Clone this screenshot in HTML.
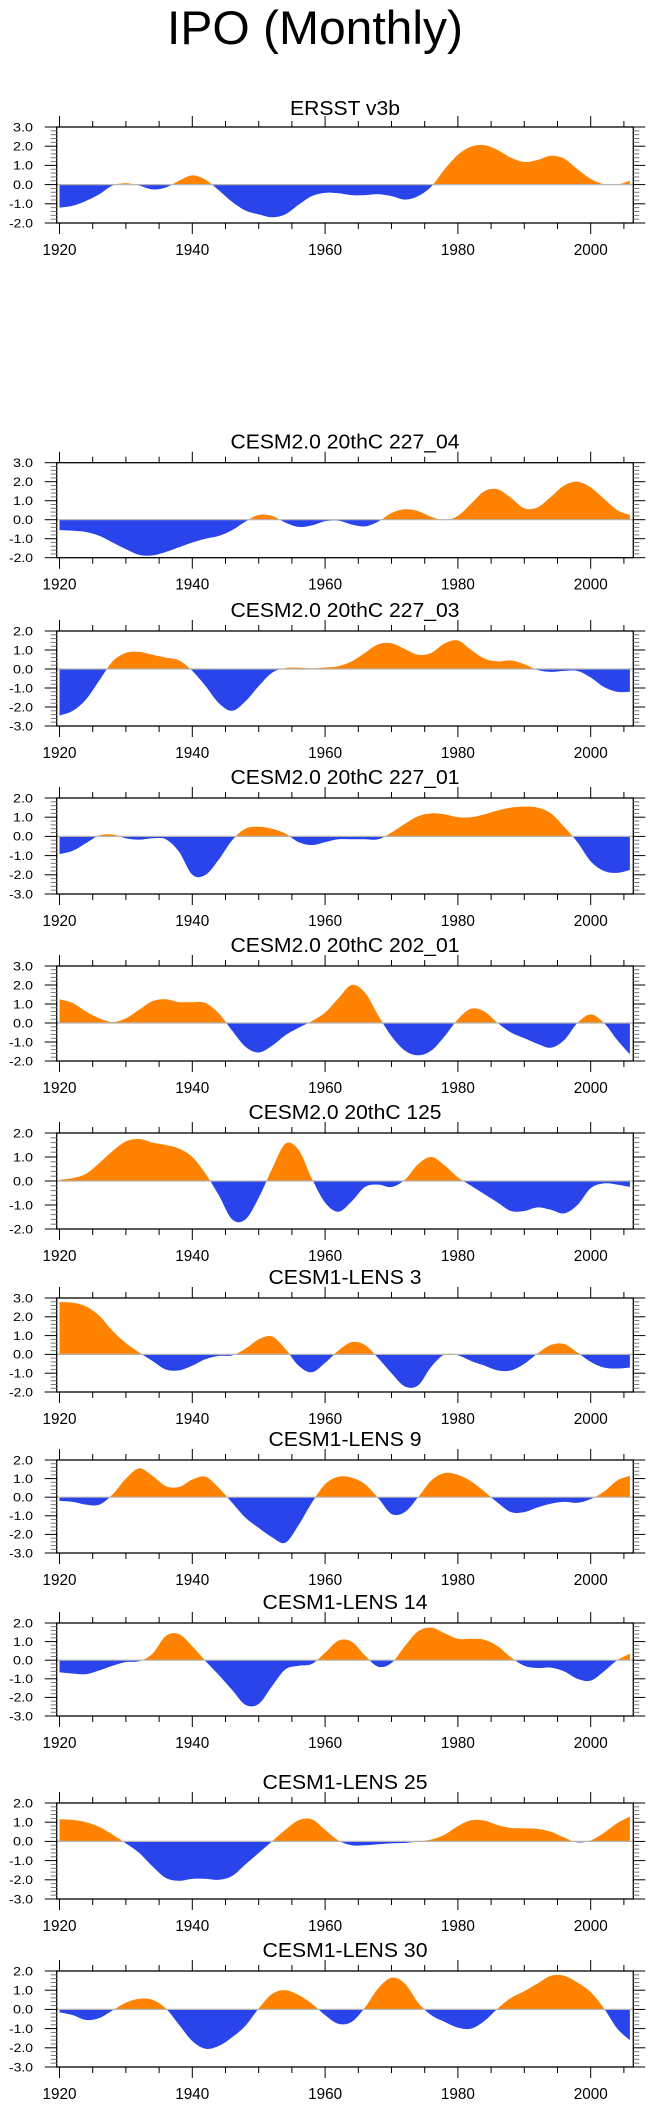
<!DOCTYPE html>
<html><head><meta charset="utf-8"><title>IPO (Monthly)</title>
<style>
html,body{margin:0;padding:0;background:#fff;}
svg{display:block;}
text{font-family:"Liberation Sans",Arial,sans-serif;fill:#000;}
</style></head>
<body>
<svg id="fig" width="654" height="2110" viewBox="0 0 654 2110" xmlns="http://www.w3.org/2000/svg">
<text x="167" y="44" font-size="47" textLength="296" lengthAdjust="spacingAndGlyphs">IPO (Monthly)</text>
</svg>
<script>
const years = [1920,1922,1924,1926,1928,1930,1932,1934,1936,1938,1940,1942,1944,1946,1948,1950,1952,1954,1956,1958,1960,1962,1964,1966,1968,1970,1972,1974,1976,1978,1980,1982,1984,1986,1988,1990,1992,1994,1996,1998,2000,2002,2004,2005.9];
const xTicks = [1920,1940,1960,1980,2000];
const panelTitles = ["ERSST v3b","CESM2.0 20thC 227_04","CESM2.0 20thC 227_03","CESM2.0 20thC 227_01","CESM2.0 20thC 202_01","CESM2.0 20thC 125","CESM1-LENS 3","CESM1-LENS 9","CESM1-LENS 14","CESM1-LENS 25","CESM1-LENS 30"];
const yMax = [3,3,2,2,3,2,3,2,2,2,2];
const yMin = [-2,-2,-3,-3,-2,-2,-2,-3,-3,-3,-3];
const ersst = [-1.2,-1.1,-0.85,-0.5,-0.05,0.07,-0.05,-0.25,-0.15,0.2,0.48,0.25,-0.3,-0.9,-1.35,-1.55,-1.7,-1.55,-1.05,-0.6,-0.43,-0.45,-0.55,-0.55,-0.5,-0.6,-0.78,-0.6,-0.1,0.8,1.55,1.98,2.05,1.8,1.4,1.18,1.28,1.5,1.35,0.8,0.3,0.02,0.0,0.2];
const c227_04 = [-0.55,-0.58,-0.65,-0.85,-1.2,-1.55,-1.85,-1.88,-1.7,-1.45,-1.2,-1.0,-0.85,-0.55,-0.1,0.25,0.2,-0.15,-0.38,-0.3,-0.08,-0.05,-0.25,-0.35,-0.1,0.35,0.55,0.45,0.15,-0.02,0.2,0.85,1.5,1.6,1.15,0.6,0.65,1.2,1.8,2.0,1.7,1.1,0.5,0.25];
const c227_03 = [-2.45,-2.2,-1.6,-0.6,0.4,0.85,0.9,0.75,0.6,0.45,-0.1,-0.9,-1.8,-2.2,-1.7,-0.9,-0.2,0.05,0.07,0.03,0.08,0.15,0.4,0.85,1.3,1.35,1.05,0.75,0.85,1.35,1.5,1.0,0.55,0.4,0.45,0.25,-0.05,-0.15,-0.1,-0.1,-0.45,-0.95,-1.2,-1.2];
const c227_01 = [-0.92,-0.75,-0.35,0.05,0.1,-0.1,-0.17,-0.1,-0.15,-0.8,-2.0,-2.0,-1.2,-0.2,0.4,0.5,0.4,0.15,-0.3,-0.45,-0.3,-0.15,-0.15,-0.15,-0.15,0.2,0.65,1.05,1.2,1.15,1.0,1.0,1.15,1.35,1.5,1.55,1.5,1.2,0.5,-0.3,-1.3,-1.8,-1.9,-1.75];
const c202_01 = [1.25,1.05,0.6,0.25,0.05,0.25,0.7,1.15,1.25,1.1,1.1,1.05,0.5,-0.4,-1.25,-1.55,-1.2,-0.65,-0.25,0.1,0.55,1.3,2.0,1.6,0.4,-0.7,-1.45,-1.7,-1.45,-0.7,0.2,0.75,0.6,0.0,-0.5,-0.8,-1.1,-1.3,-0.9,0.0,0.45,0.0,-0.9,-1.65];
const c125 = [0.05,0.12,0.3,0.75,1.25,1.65,1.75,1.6,1.5,1.35,1.0,0.3,-0.6,-1.6,-1.6,-0.7,0.5,1.55,1.3,0.1,-0.9,-1.28,-0.85,-0.25,-0.15,-0.25,0.05,0.7,1.0,0.65,0.15,-0.2,-0.55,-0.9,-1.25,-1.25,-1.1,-1.2,-1.35,-1.0,-0.3,-0.1,-0.15,-0.25];
const lens3 = [2.78,2.75,2.55,2.05,1.25,0.6,0.1,-0.35,-0.8,-0.85,-0.6,-0.25,-0.08,-0.05,0.3,0.8,0.95,0.3,-0.6,-0.95,-0.45,0.2,0.65,0.5,-0.2,-1.0,-1.7,-1.65,-0.65,0.0,-0.05,-0.35,-0.6,-0.85,-0.85,-0.5,0.05,0.5,0.55,0.1,-0.4,-0.7,-0.75,-0.7];
const lens9 = [-0.2,-0.25,-0.4,-0.4,0.15,1.0,1.55,1.15,0.6,0.55,0.95,1.1,0.5,-0.3,-1.1,-1.65,-2.15,-2.45,-1.5,-0.3,0.7,1.1,1.05,0.7,-0.05,-0.9,-0.8,0.0,0.9,1.3,1.2,0.85,0.3,-0.3,-0.8,-0.8,-0.55,-0.35,-0.25,-0.3,-0.1,0.3,0.9,1.15];
const lens14 = [-0.65,-0.72,-0.75,-0.55,-0.3,-0.1,-0.05,0.35,1.3,1.4,0.75,-0.05,-0.8,-1.6,-2.4,-2.35,-1.4,-0.5,-0.3,-0.2,0.4,1.05,1.0,0.25,-0.35,-0.15,0.75,1.55,1.75,1.45,1.15,1.15,1.1,0.75,0.15,-0.3,-0.42,-0.4,-0.6,-1.0,-1.1,-0.6,0.0,0.35];
const lens25 = [1.15,1.12,1.0,0.75,0.35,-0.1,-0.6,-1.3,-1.9,-2.05,-1.95,-1.95,-2.0,-1.8,-1.2,-0.6,0.0,0.6,1.1,1.15,0.6,0.05,-0.2,-0.2,-0.15,-0.1,-0.08,0.0,0.1,0.35,0.8,1.1,1.08,0.85,0.7,0.68,0.65,0.5,0.2,-0.05,0.05,0.45,0.95,1.3];
const lens30 = [-0.15,-0.3,-0.55,-0.45,-0.05,0.35,0.55,0.5,0.05,-0.8,-1.65,-2.05,-1.9,-1.45,-0.85,0.05,0.8,1.0,0.75,0.3,-0.3,-0.75,-0.65,0.1,1.1,1.65,1.35,0.35,-0.3,-0.65,-0.95,-1.0,-0.6,0.05,0.6,0.95,1.35,1.75,1.75,1.4,0.9,0.05,-1.0,-1.6];
const seriesList = [ersst,c227_04,c227_03,c227_01,c202_01,c125,lens3,lens9,lens14,lens25,lens30];

const panelTop = [127,462.7,631,798,966,1133,1298,1460,1623,1803,1971];
const panelBot = [223,557.7,726,894,1061,1229,1392,1553,1716,1899,2067];
const titleLen = [110,229,229,229,229,193,153,153,165,165,165];
const BOX_L = 56.7, BOX_R = 633.3;
const NS = "http://www.w3.org/2000/svg";
const svg = document.getElementById('fig');
function xs(yr){ return 59.5 + (yr - 1920) * 6.64; }
function mk(tag, attrs, parent){
  const e = document.createElementNS(NS, tag);
  for (const k in attrs) e.setAttribute(k, attrs[k]);
  (parent || svg).appendChild(e);
  return e;
}
function smoothPts(px, py){
  const out = [];
  const n = px.length;
  for (let i = 0; i < n - 1; i++){
    const x0 = px[Math.max(i-1,0)], y0 = py[Math.max(i-1,0)];
    const x1 = px[i], y1 = py[i], x2 = px[i+1], y2 = py[i+1];
    const x3 = px[Math.min(i+2,n-1)], y3 = py[Math.min(i+2,n-1)];
    for (let s = 0; s < 12; s++){
      const t = s/12, t2 = t*t, t3 = t2*t;
      const f = (a,b,c,d) => 0.5*((2*b)+(-a+c)*t+(2*a-5*b+4*c-d)*t2+(-a+3*b-3*c+d)*t3);
      out.push([f(x0,x1,x2,x3), f(y0,y1,y2,y3)]);
    }
  }
  out.push([px[n-1], py[n-1]]);
  return out;
}

for (let p = 0; p < seriesList.length; p++){
  const top = panelTop[p], bot = panelBot[p];
  const lo = yMin[p], hi = yMax[p];
  const ys = v => top + (hi - v) / (hi - lo) * (bot - top);
  const zeroY = ys(0);
  const g = mk('g', {});
  
  

  const t = mk('text', {x: 345, y: top - (p === 0 ? 12 : 14), 'font-size': 20, 'text-anchor': 'middle', textLength: titleLen[p], lengthAdjust: 'spacingAndGlyphs'}, g);
  
  
  t.textContent = panelTitles[p];

  // clip paths
  const defs = mk('defs', {}, g);
  const cpA = mk('clipPath', {id: 'ca' + p}, defs);
  mk('rect', {x: BOX_L, y: top, width: BOX_R - BOX_L, height: zeroY - top}, cpA);
  const cpB = mk('clipPath', {id: 'cb' + p}, defs);
  mk('rect', {x: BOX_L, y: zeroY, width: BOX_R - BOX_L, height: bot - zeroY}, cpB);

  const vals = seriesList[p];
  const pts = smoothPts(years.map(xs), vals.map(ys));
  let d = 'M' + pts[0][0].toFixed(2) + ',' + zeroY.toFixed(2);
  for (const q of pts) d += 'L' + q[0].toFixed(2) + ',' + q[1].toFixed(2);
  d += 'L' + pts[pts.length-1][0].toFixed(2) + ',' + zeroY.toFixed(2) + 'Z';
  const pos = mk('path', {d: d, fill: '#ff8200', 'clip-path': 'url(#ca' + p + ')'}, g);
  
  
  const neg = mk('path', {d: d, fill: '#2944ea', 'clip-path': 'url(#cb' + p + ')'}, g);
  
  

  const zl = mk('line', {x1: BOX_L, x2: BOX_R, y1: zeroY, y2: zeroY, stroke: '#b4b4b4', 'stroke-width': 1.2}, g);
  
  

  const box = mk('rect', {x: BOX_L, y: top, width: BOX_R - BOX_L, height: bot - top, fill: 'none', stroke: '#000', 'stroke-width': 1.3}, g);
  
  

  // x ticks
  for (let yr = 1920; yr <= 2005; yr += 5){
    const x = xs(yr);
    const major = (yr % 20 === 0);
    const len = major ? 11 : 6;
    mk('line', {x1: x, x2: x, y1: top, y2: top - len, stroke: '#000', 'stroke-width': 1}, g);
    mk('line', {x1: x, x2: x, y1: bot, y2: bot + len, stroke: '#000', 'stroke-width': 1}, g);
  }
  for (const yr of xTicks){
    const lb = mk('text', {x: xs(yr), y: bot + 32, 'font-size': 16, 'text-anchor': 'middle', textLength: 34, lengthAdjust: 'spacingAndGlyphs'}, g);
    
    
    lb.textContent = String(yr);
  }
  // y ticks
  for (let k = Math.round(lo*5); k <= Math.round(hi*5); k++){
    const v = k / 5, y = ys(v);
    const major = (k % 5 === 0);
    const len = major ? 12 : 6;
    const col = major ? '#000' : '#777';
    mk('line', {x1: BOX_L, x2: BOX_L - len, y1: y, y2: y, stroke: col, 'stroke-width': 1}, g);
    mk('line', {x1: BOX_R, x2: BOX_R + len, y1: y, y2: y, stroke: col, 'stroke-width': 1}, g);
    if (major){
      const lb = mk('text', {x: 33, y: y + 4.3, 'font-size': 12, 'text-anchor': 'end', textLength: v < 0 ? 24 : 20, lengthAdjust: 'spacingAndGlyphs'}, g);
      
      
      lb.textContent = v.toFixed(1);
    }
  }
}
</script>
</body></html>
